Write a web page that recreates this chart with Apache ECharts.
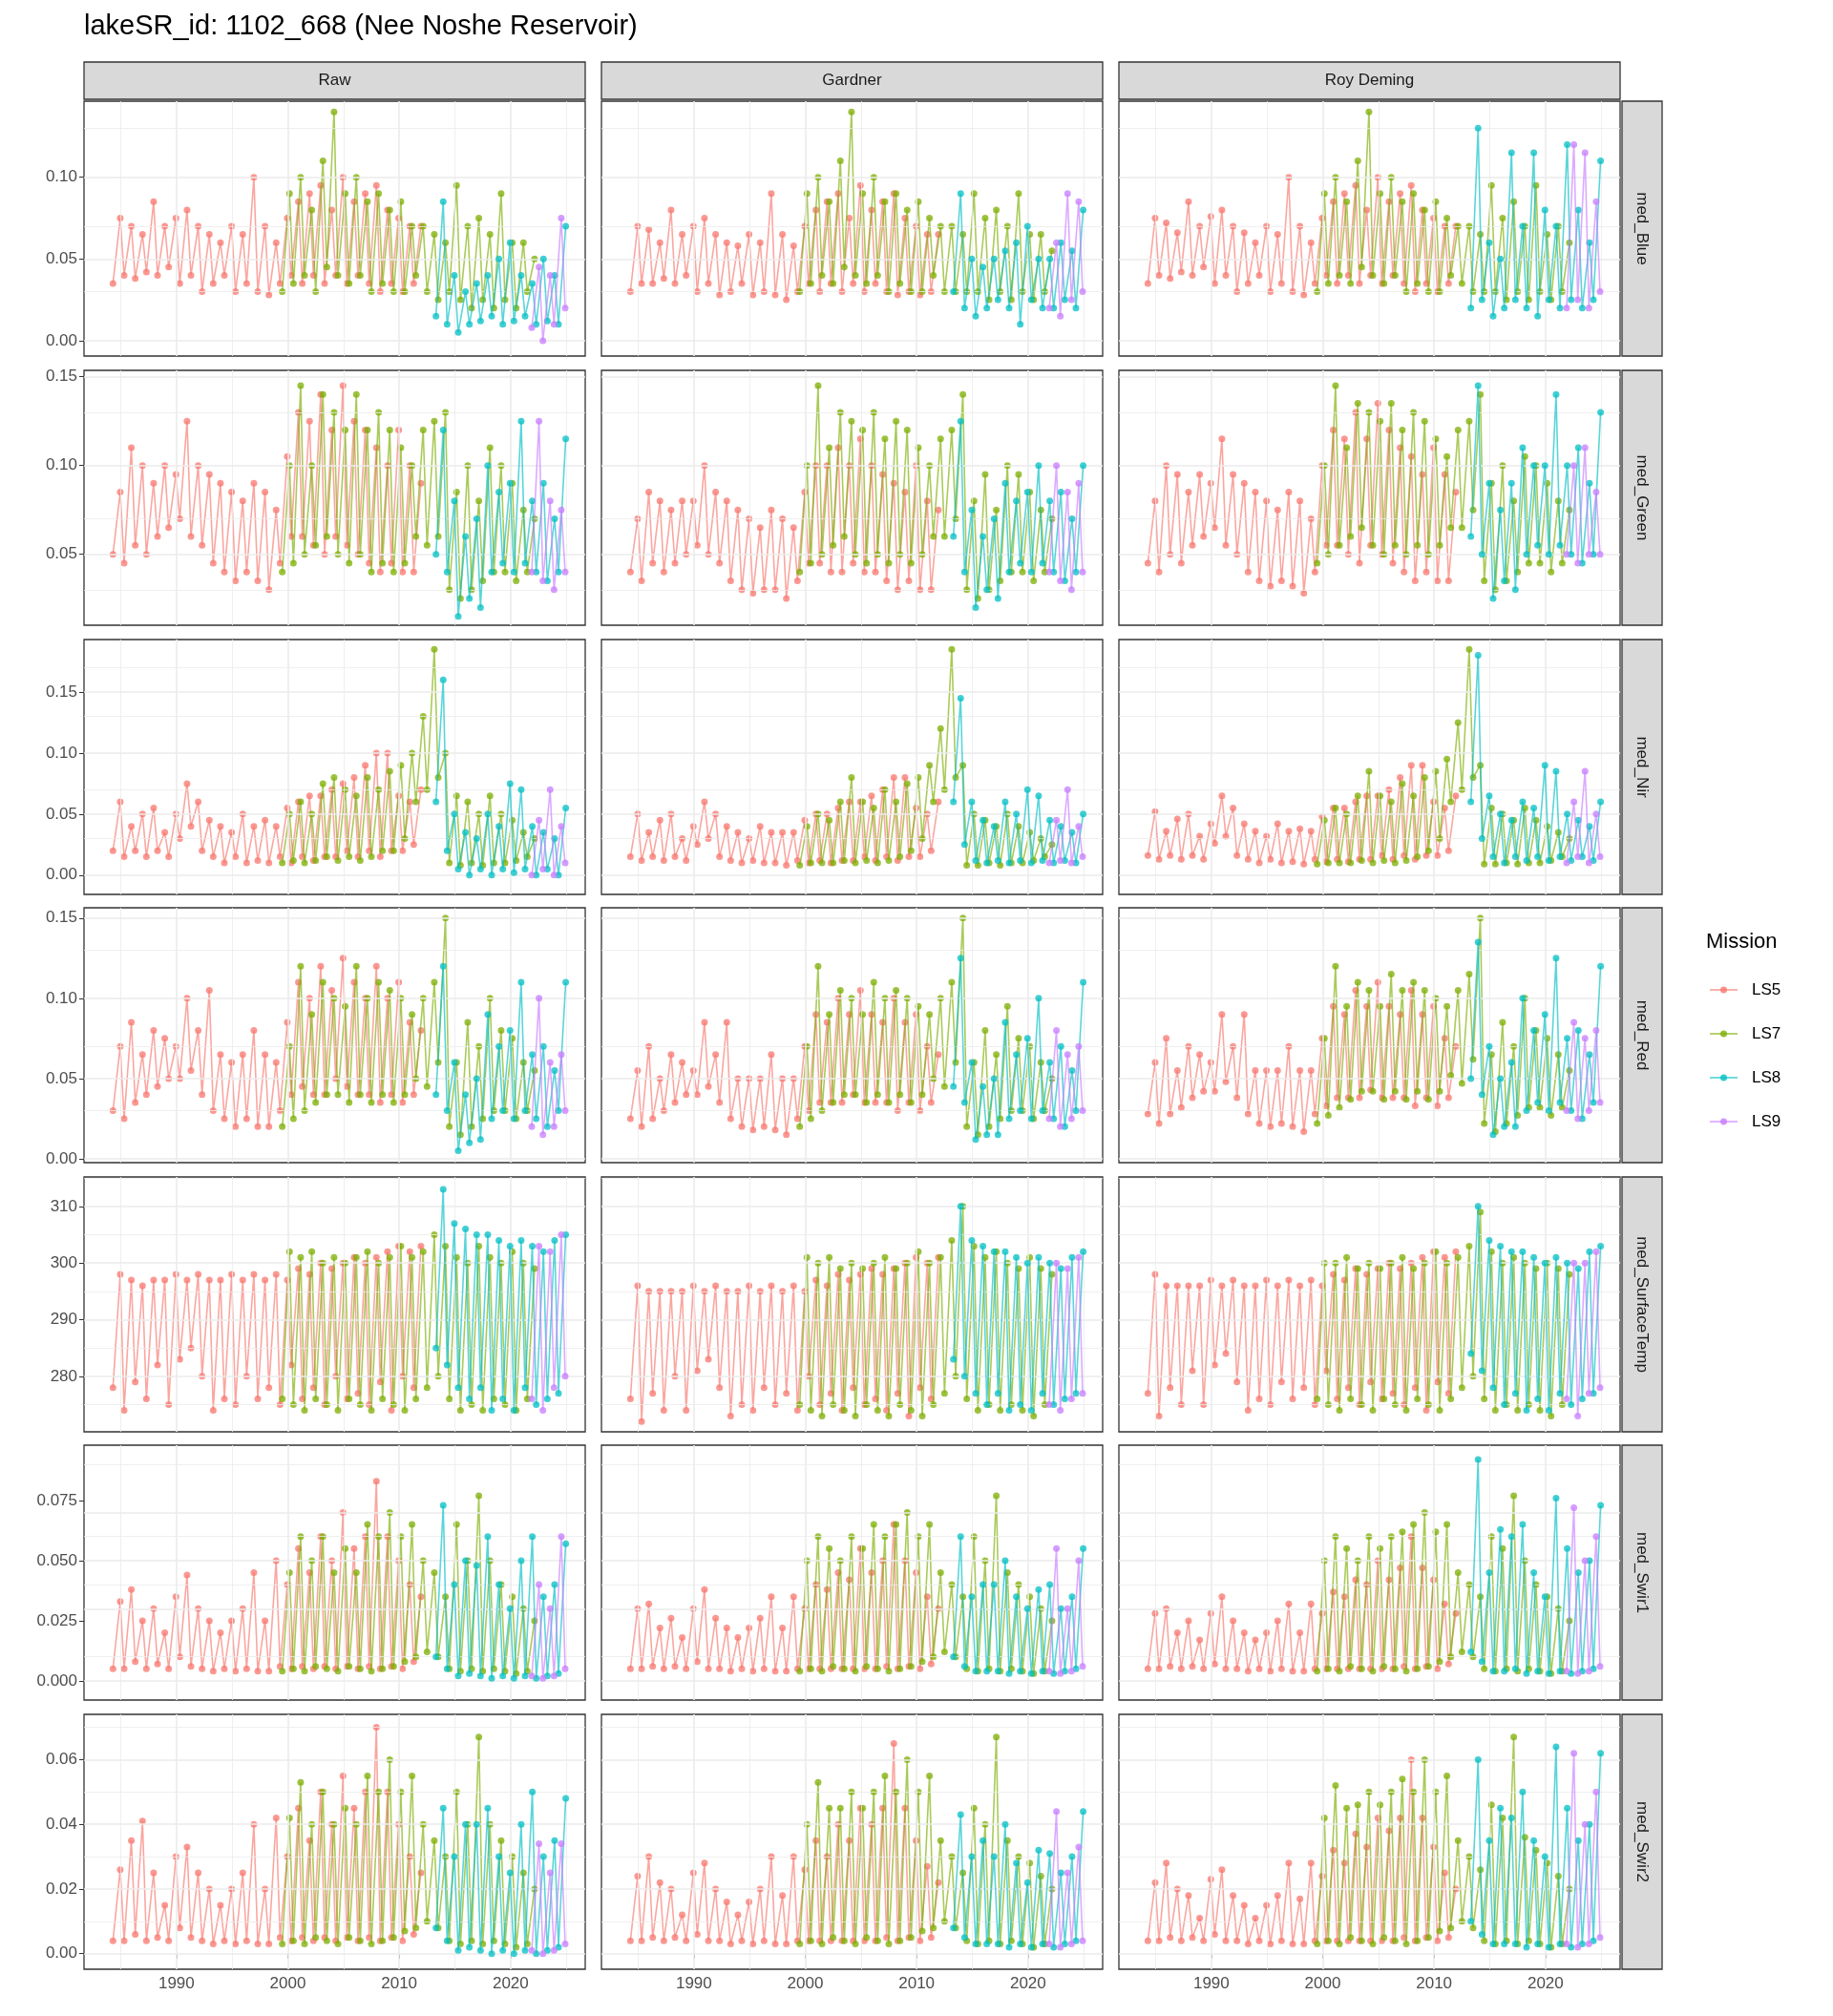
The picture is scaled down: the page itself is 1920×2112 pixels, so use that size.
<!DOCTYPE html>
<html>
<head>
<meta charset="utf-8">
<script src="https://cdn.jsdelivr.net/npm/echarts@6/dist/echarts.min.js"></script>
<style>html,body{margin:0;background:#fff}#main{width:1920px;height:2112px}</style>
</head>
<body>
<div id="main"></div>
<script>
// facets
var variables = ['med_Blue', 'med_Green', 'med_Nir', 'med_Red', 'med_SurfaceTemp', 'med_Swir1', 'med_Swir2'];
var methods = ['Raw', 'Gardner', 'Roy Deming'];
var missions = ['LS5', 'LS7', 'LS8', 'LS9'];
var missionColors = ['#F8766D', '#7CAE00', '#00BFC4', '#C77CFF'];
// first acquisition (decimal year) and spacing of the sampled scenes
var missionStart = [1984.3, 1999.5, 2013.3, 2021.9];
var sampleStep = 0.5;

var xTicks = [1990, 2000, 2010, 2020];
var xMinor = [1985, 1995, 2005, 2015, 2025];
var yTicks = [[0, 0.05, 0.10], [0.05, 0.10, 0.15], [0, 0.05, 0.10, 0.15], [0, 0.05, 0.10, 0.15], [280, 290, 300, 310], [0, 0.025, 0.05, 0.075], [0, 0.02, 0.04, 0.06]];
var yMinor = [[0.025, 0.075, 0.125], [0.025, 0.075, 0.125], [0.025, 0.075, 0.125, 0.175], [0.025, 0.075, 0.125], [275, 285, 295, 305, 315], [0.0125, 0.0375, 0.0625, 0.0875], [0.01, 0.03, 0.05, 0.07]];
var yDecimals = [2, 2, 2, 2, 0, 3, 2];
var yMin = [-0.0094, 0.010, -0.0158, -0.0024, 270.2, -0.008, -0.0048];
var yMax = [0.1465, 0.1536, 0.193, 0.1564, 315.2, 0.098, 0.074];

// ---- med_Blue
var blue_raw_ls5 = [0.035,0.075,0.04,0.07,0.038,0.065,0.042,0.085,0.04,0.07,0.045,0.075,0.035,0.08,0.04,0.07,0.03,0.065,0.035,0.06,0.04,0.07,0.03,0.065,0.035,0.1,0.03,0.07,0.028,0.06,0.035,0.075,0.04,0.085,0.035,0.09,0.04,0.095,0.035,0.08,0.04,0.1,0.035,0.085,0.04,0.09,0.035,0.095,0.03,0.08,0.035,0.075,0.03,0.07,0.035,0.07];
var blue_raw_ls7 = [0.03,0.09,0.035,0.1,0.04,0.08,0.03,0.11,0.045,0.14,0.04,0.09,0.035,0.1,0.04,0.085,0.03,0.09,0.035,0.08,0.03,0.085,0.03,0.07,0.04,0.07,0.03,0.065,0.025,0.06,0.03,0.095,0.025,0.07,0.02,0.075,0.025,0.065,0.02,0.09,0.025,0.06,0.02,0.06,0.03,0.05];
var blue_raw_ls8 = [0.015,0.085,0.01,0.04,0.005,0.03,0.01,0.035,0.012,0.04,0.015,0.05,0.01,0.06,0.012,0.04,0.015,0.035,0.01,0.05,0.012,0.04,0.01,0.07];
var blue_raw_ls9 = [0.008,0.045,0.0,0.04,0.01,0.075,0.02];
var blue_gar_ls5 = [0.03,0.07,0.035,0.068,0.035,0.06,0.038,0.08,0.035,0.065,0.04,0.07,0.03,0.075,0.035,0.065,0.028,0.06,0.03,0.058,0.035,0.065,0.028,0.06,0.03,0.09,0.028,0.065,0.025,0.058,0.03,0.07,0.035,0.08,0.03,0.085,0.035,0.09,0.03,0.075,0.035,0.095,0.03,0.08,0.035,0.085,0.03,0.09,0.028,0.075,0.03,0.07,0.028,0.065,0.03,0.065];
var blue_gar_ls7 = [0.03,0.09,0.035,0.1,0.04,0.085,0.035,0.11,0.045,0.14,0.04,0.09,0.035,0.1,0.04,0.085,0.03,0.09,0.035,0.08,0.03,0.085,0.03,0.075,0.04,0.07,0.03,0.07,0.03,0.065,0.03,0.09,0.03,0.075,0.025,0.08,0.03,0.07,0.025,0.09,0.03,0.065,0.025,0.065,0.03,0.055];
var blue_gar_ls8 = [0.03,0.09,0.02,0.05,0.015,0.045,0.02,0.05,0.025,0.055,0.02,0.06,0.01,0.07,0.025,0.05,0.02,0.05,0.02,0.06,0.025,0.055,0.02,0.08];
var blue_gar_ls9 = [0.02,0.06,0.015,0.09,0.025,0.085,0.03];
var blue_roy_ls5 = [0.035,0.075,0.04,0.072,0.038,0.066,0.042,0.085,0.04,0.07,0.045,0.076,0.035,0.08,0.04,0.07,0.03,0.066,0.035,0.06,0.04,0.07,0.03,0.065,0.035,0.1,0.03,0.07,0.028,0.06,0.035,0.075,0.04,0.085,0.035,0.09,0.04,0.095,0.035,0.08,0.04,0.1,0.035,0.085,0.04,0.09,0.035,0.095,0.03,0.08,0.035,0.075,0.03,0.07,0.035,0.07];
var blue_roy_ls7 = [0.03,0.09,0.035,0.1,0.04,0.085,0.035,0.11,0.045,0.14,0.04,0.09,0.035,0.1,0.04,0.085,0.03,0.09,0.035,0.08,0.03,0.085,0.03,0.075,0.04,0.07,0.035,0.07,0.03,0.065,0.03,0.095,0.03,0.075,0.025,0.085,0.03,0.07,0.025,0.095,0.03,0.065,0.025,0.07,0.03,0.06];
var blue_roy_ls8 = [0.02,0.13,0.025,0.06,0.015,0.05,0.02,0.115,0.025,0.07,0.02,0.115,0.015,0.08,0.025,0.07,0.02,0.12,0.025,0.08,0.02,0.06,0.025,0.11];
var blue_roy_ls9 = [0.02,0.12,0.025,0.115,0.02,0.085,0.03];

// ---- med_Green
var green_raw_ls5 = [0.05,0.085,0.045,0.11,0.055,0.1,0.05,0.09,0.06,0.1,0.065,0.095,0.07,0.125,0.06,0.1,0.055,0.095,0.045,0.09,0.04,0.085,0.035,0.08,0.04,0.09,0.035,0.085,0.03,0.075,0.045,0.105,0.06,0.13,0.06,0.125,0.055,0.14,0.05,0.12,0.06,0.145,0.055,0.125,0.05,0.12,0.045,0.11,0.04,0.1,0.045,0.12,0.04,0.1,0.04,0.09];
var green_raw_ls7 = [0.04,0.1,0.045,0.145,0.05,0.1,0.055,0.14,0.06,0.13,0.05,0.12,0.045,0.14,0.05,0.12,0.04,0.13,0.045,0.12,0.04,0.11,0.045,0.1,0.06,0.12,0.055,0.125,0.06,0.13,0.03,0.085,0.025,0.1,0.03,0.08,0.035,0.11,0.04,0.1,0.04,0.09,0.035,0.075,0.04,0.07];
var green_raw_ls8 = [0.05,0.12,0.04,0.08,0.015,0.06,0.025,0.07,0.02,0.1,0.04,0.085,0.045,0.09,0.04,0.125,0.045,0.08,0.04,0.09,0.035,0.07,0.04,0.115];
var green_raw_ls9 = [0.04,0.125,0.035,0.08,0.03,0.075,0.04];
var green_gar_ls5 = [0.04,0.07,0.035,0.085,0.045,0.08,0.04,0.075,0.045,0.08,0.05,0.08,0.055,0.1,0.05,0.085,0.045,0.08,0.035,0.075,0.03,0.07,0.028,0.065,0.03,0.075,0.03,0.07,0.025,0.065,0.035,0.085,0.045,0.1,0.045,0.1,0.04,0.11,0.04,0.1,0.045,0.115,0.04,0.1,0.04,0.095,0.035,0.09,0.03,0.085,0.035,0.1,0.03,0.08,0.03,0.075];
var green_gar_ls7 = [0.04,0.1,0.045,0.145,0.05,0.11,0.055,0.13,0.06,0.125,0.05,0.12,0.045,0.13,0.05,0.115,0.045,0.125,0.05,0.12,0.045,0.11,0.05,0.1,0.06,0.115,0.06,0.12,0.07,0.14,0.03,0.08,0.025,0.095,0.03,0.075,0.035,0.1,0.04,0.095,0.04,0.085,0.035,0.075,0.04,0.07];
var green_gar_ls8 = [0.06,0.125,0.04,0.075,0.02,0.06,0.03,0.07,0.025,0.09,0.04,0.08,0.045,0.085,0.04,0.1,0.045,0.08,0.04,0.085,0.035,0.07,0.04,0.1];
var green_gar_ls9 = [0.04,0.1,0.035,0.085,0.03,0.09,0.04];
var green_roy_ls5 = [0.045,0.08,0.04,0.1,0.05,0.095,0.045,0.085,0.055,0.095,0.06,0.09,0.065,0.115,0.055,0.095,0.05,0.09,0.04,0.085,0.035,0.08,0.032,0.075,0.035,0.085,0.032,0.08,0.028,0.07,0.04,0.1,0.055,0.12,0.055,0.115,0.05,0.13,0.045,0.115,0.055,0.135,0.05,0.12,0.045,0.11,0.04,0.105,0.035,0.095,0.04,0.11,0.035,0.095,0.035,0.085];
var green_roy_ls7 = [0.045,0.1,0.05,0.145,0.055,0.11,0.06,0.135,0.065,0.13,0.055,0.125,0.05,0.135,0.055,0.12,0.05,0.13,0.055,0.125,0.05,0.115,0.055,0.105,0.065,0.12,0.065,0.125,0.075,0.14,0.035,0.09,0.03,0.1,0.035,0.08,0.04,0.105,0.045,0.1,0.045,0.09,0.04,0.08,0.045,0.075];
var green_roy_ls8 = [0.06,0.145,0.05,0.09,0.025,0.075,0.035,0.09,0.03,0.11,0.05,0.1,0.055,0.1,0.05,0.14,0.055,0.1,0.05,0.11,0.045,0.09,0.05,0.13];
var green_roy_ls9 = [0.05,0.1,0.045,0.11,0.05,0.085,0.05];

// ---- med_Nir
var nir_raw_ls5 = [0.02,0.06,0.015,0.04,0.02,0.05,0.015,0.055,0.02,0.035,0.015,0.05,0.03,0.075,0.04,0.06,0.02,0.045,0.015,0.04,0.01,0.035,0.015,0.05,0.01,0.04,0.012,0.045,0.01,0.04,0.015,0.055,0.01,0.06,0.015,0.065,0.012,0.065,0.015,0.07,0.015,0.075,0.02,0.08,0.015,0.09,0.02,0.1,0.015,0.1,0.02,0.065,0.02,0.06,0.025,0.07];
var nir_raw_ls7 = [0.01,0.05,0.012,0.06,0.01,0.05,0.012,0.075,0.015,0.08,0.012,0.07,0.015,0.065,0.012,0.08,0.015,0.07,0.02,0.085,0.02,0.09,0.03,0.1,0.06,0.13,0.07,0.185,0.08,0.1,0.01,0.065,0.008,0.06,0.01,0.05,0.008,0.065,0.01,0.05,0.01,0.045,0.012,0.035,0.015,0.03];
var nir_raw_ls8 = [0.06,0.16,0.02,0.05,0.005,0.035,0.0,0.03,0.005,0.05,0.0,0.04,0.005,0.075,0.002,0.07,0.005,0.04,0.0,0.035,0.005,0.03,0.0,0.055];
var nir_raw_ls9 = [0.0,0.045,0.005,0.07,0.0,0.04,0.01];
var nir_gar_ls5 = [0.015,0.05,0.012,0.035,0.015,0.045,0.012,0.05,0.015,0.03,0.012,0.04,0.025,0.06,0.03,0.05,0.015,0.04,0.012,0.035,0.01,0.03,0.012,0.04,0.01,0.035,0.01,0.035,0.008,0.035,0.012,0.045,0.01,0.05,0.012,0.05,0.01,0.055,0.012,0.06,0.012,0.06,0.015,0.065,0.012,0.07,0.015,0.08,0.012,0.08,0.015,0.055,0.015,0.05,0.02,0.06];
var nir_gar_ls7 = [0.008,0.04,0.01,0.05,0.01,0.045,0.01,0.06,0.012,0.08,0.01,0.06,0.012,0.055,0.01,0.07,0.012,0.06,0.015,0.075,0.02,0.08,0.03,0.09,0.06,0.12,0.07,0.185,0.08,0.09,0.008,0.05,0.008,0.045,0.01,0.04,0.008,0.05,0.01,0.04,0.01,0.035,0.012,0.03,0.015,0.025];
var nir_gar_ls8 = [0.06,0.145,0.025,0.06,0.012,0.045,0.01,0.04,0.012,0.06,0.01,0.05,0.012,0.07,0.01,0.065,0.012,0.045,0.01,0.04,0.012,0.035,0.01,0.05];
var nir_gar_ls9 = [0.01,0.045,0.012,0.07,0.01,0.04,0.015];
var nir_roy_ls5 = [0.016,0.052,0.013,0.036,0.016,0.046,0.013,0.05,0.016,0.032,0.013,0.042,0.026,0.065,0.032,0.055,0.016,0.042,0.013,0.036,0.01,0.032,0.013,0.042,0.01,0.036,0.011,0.038,0.009,0.036,0.013,0.048,0.011,0.055,0.013,0.055,0.011,0.06,0.013,0.065,0.013,0.065,0.016,0.07,0.013,0.08,0.016,0.09,0.013,0.09,0.016,0.06,0.016,0.055,0.02,0.065];
var nir_roy_ls7 = [0.009,0.045,0.01,0.055,0.01,0.05,0.01,0.065,0.012,0.085,0.01,0.065,0.012,0.06,0.01,0.075,0.012,0.065,0.015,0.08,0.02,0.085,0.03,0.095,0.06,0.125,0.07,0.185,0.08,0.09,0.009,0.055,0.009,0.05,0.01,0.045,0.009,0.055,0.01,0.045,0.01,0.04,0.012,0.035,0.015,0.03];
var nir_roy_ls8 = [0.06,0.18,0.03,0.065,0.015,0.05,0.01,0.045,0.015,0.06,0.012,0.055,0.015,0.09,0.012,0.085,0.015,0.05,0.012,0.045,0.015,0.04,0.012,0.06];
var nir_roy_ls9 = [0.01,0.06,0.015,0.085,0.01,0.05,0.015];

// ---- med_Red
var red_raw_ls5 = [0.03,0.07,0.025,0.085,0.035,0.065,0.04,0.08,0.045,0.075,0.05,0.07,0.05,0.1,0.055,0.08,0.04,0.105,0.03,0.065,0.025,0.06,0.02,0.065,0.025,0.08,0.02,0.065,0.02,0.06,0.03,0.085,0.04,0.11,0.045,0.1,0.04,0.12,0.04,0.105,0.05,0.125,0.045,0.11,0.04,0.1,0.04,0.12,0.035,0.1,0.04,0.11,0.035,0.085,0.04,0.08];
var red_raw_ls7 = [0.02,0.07,0.025,0.12,0.03,0.09,0.035,0.11,0.04,0.1,0.04,0.095,0.035,0.12,0.04,0.1,0.035,0.11,0.04,0.105,0.035,0.1,0.04,0.09,0.05,0.1,0.045,0.11,0.06,0.15,0.02,0.06,0.015,0.085,0.02,0.07,0.025,0.1,0.03,0.08,0.03,0.075,0.025,0.06,0.03,0.055];
var red_raw_ls8 = [0.04,0.12,0.03,0.06,0.005,0.04,0.01,0.05,0.012,0.09,0.025,0.07,0.03,0.08,0.025,0.11,0.03,0.065,0.025,0.07,0.02,0.055,0.03,0.11];
var red_raw_ls9 = [0.02,0.1,0.015,0.06,0.02,0.065,0.03];
var red_gar_ls5 = [0.025,0.055,0.02,0.07,0.025,0.05,0.03,0.065,0.035,0.06,0.04,0.055,0.04,0.085,0.045,0.065,0.035,0.085,0.025,0.05,0.02,0.05,0.018,0.05,0.02,0.065,0.018,0.05,0.015,0.05,0.025,0.07,0.03,0.09,0.035,0.085,0.035,0.1,0.035,0.09,0.04,0.105,0.035,0.09,0.035,0.085,0.035,0.1,0.03,0.085,0.035,0.09,0.03,0.07,0.035,0.065];
var red_gar_ls7 = [0.02,0.07,0.025,0.12,0.03,0.09,0.035,0.105,0.04,0.1,0.04,0.09,0.035,0.11,0.04,0.1,0.035,0.105,0.04,0.1,0.035,0.095,0.04,0.09,0.05,0.1,0.045,0.11,0.06,0.15,0.02,0.06,0.015,0.08,0.02,0.065,0.025,0.095,0.03,0.075,0.03,0.07,0.025,0.06,0.03,0.05];
var red_gar_ls8 = [0.045,0.125,0.035,0.06,0.012,0.045,0.015,0.05,0.015,0.085,0.025,0.065,0.03,0.075,0.025,0.1,0.03,0.06,0.025,0.07,0.02,0.055,0.03,0.11];
var red_gar_ls9 = [0.025,0.08,0.02,0.065,0.025,0.07,0.03];
var red_roy_ls5 = [0.028,0.06,0.022,0.075,0.028,0.055,0.032,0.07,0.038,0.065,0.042,0.06,0.042,0.09,0.048,0.07,0.038,0.09,0.028,0.055,0.022,0.055,0.02,0.055,0.022,0.07,0.02,0.055,0.017,0.055,0.028,0.075,0.033,0.095,0.038,0.09,0.038,0.105,0.038,0.095,0.043,0.11,0.038,0.095,0.038,0.09,0.038,0.105,0.033,0.09,0.038,0.095,0.033,0.075,0.038,0.07];
var red_roy_ls7 = [0.022,0.075,0.027,0.12,0.032,0.095,0.037,0.11,0.042,0.105,0.042,0.095,0.037,0.115,0.042,0.105,0.037,0.11,0.042,0.105,0.037,0.1,0.042,0.095,0.052,0.105,0.047,0.115,0.062,0.15,0.022,0.065,0.017,0.085,0.022,0.07,0.027,0.1,0.032,0.08,0.032,0.075,0.027,0.065,0.032,0.055];
var red_roy_ls8 = [0.05,0.135,0.04,0.07,0.015,0.05,0.02,0.06,0.02,0.1,0.03,0.08,0.035,0.09,0.03,0.125,0.035,0.075,0.03,0.08,0.025,0.065,0.035,0.12];
var red_roy_ls9 = [0.03,0.085,0.025,0.075,0.03,0.08,0.035];

// ---- med_SurfaceTemp
var temp_raw_ls5 = [278,298,274,297,279,296,276,297,282,297,275,298,283,297,285,298,280,297,274,297,276,298,275,297,280,298,276,297,278,298,275,297,282,299,276,298,278,300,275,299,280,300,276,301,277,300,275,301,279,302,274,303,280,302,278,303];
var temp_raw_ls7 = [276,302,275,301,274,302,276,300,275,301,274,300,276,301,275,302,274,300,276,301,275,303,274,301,276,302,278,305,280,303,276,301,274,300,275,303,274,301,276,300,275,302,274,300,276,299];
var temp_raw_ls8 = [285,313,282,307,278,306,276,305,278,305,274,304,276,303,274,304,278,303,275,302,276,304,277,305];
var temp_raw_ls9 = [276,303,274,302,278,305,280];
var temp_gar_ls5 = [276,296,272,295,277,295,274,295,280,295,274,296,281,295,283,296,278,295,273,295,275,296,274,295,278,296,275,295,277,296,274,295,280,297,275,296,277,298,274,297,278,298,275,299,276,298,274,299,277,300,273,301,278,300,276,301];
var temp_gar_ls7 = [275,301,274,300,273,301,275,299,274,300,273,299,275,300,274,301,273,299,275,300,274,302,273,300,275,301,277,304,280,310,276,303,274,301,275,302,274,300,275,299,274,301,273,299,275,298];
var temp_gar_ls8 = [283,310,280,304,277,303,275,302,277,302,274,301,275,300,274,301,277,300,275,299,276,301,277,302];
var temp_gar_ls9 = [275,300,274,299,276,301,277];
var temp_roy_ls5 = [277,298,273,296,278,296,275,296,281,296,275,297,282,296,284,297,279,296,274,296,276,297,275,296,279,297,276,296,278,297,275,296,281,298,276,297,278,299,275,298,279,299,276,300,277,299,275,300,278,301,274,302,279,301,277,302];
var temp_roy_ls7 = [276,300,275,300,274,301,276,299,275,300,274,299,276,300,275,301,274,299,276,300,275,302,274,300,276,301,278,303,280,309,276,302,274,300,275,301,274,300,275,299,274,300,273,299,275,298];
var temp_roy_ls8 = [284,310,281,304,278,303,275,302,277,302,274,301,276,300,274,301,277,300,275,299,276,302,277,303];
var temp_roy_ls9 = [276,300,273,300,277,302,278];

// ---- med_Swir1
var swir1_raw_ls5 = [0.005,0.033,0.005,0.038,0.008,0.025,0.005,0.03,0.007,0.02,0.005,0.035,0.01,0.044,0.006,0.03,0.005,0.025,0.004,0.02,0.005,0.025,0.004,0.03,0.005,0.045,0.004,0.025,0.004,0.05,0.006,0.04,0.005,0.055,0.006,0.045,0.005,0.06,0.006,0.05,0.005,0.07,0.006,0.055,0.005,0.06,0.006,0.083,0.005,0.06,0.006,0.05,0.005,0.04,0.008,0.035];
var swir1_raw_ls7 = [0.004,0.045,0.005,0.06,0.004,0.05,0.006,0.06,0.005,0.045,0.004,0.055,0.006,0.045,0.005,0.065,0.004,0.06,0.005,0.07,0.006,0.06,0.008,0.065,0.01,0.05,0.012,0.045,0.01,0.035,0.005,0.065,0.004,0.05,0.005,0.077,0.004,0.05,0.005,0.04,0.004,0.035,0.003,0.03,0.004,0.025];
var swir1_raw_ls8 = [0.01,0.073,0.005,0.04,0.002,0.05,0.003,0.048,0.002,0.06,0.001,0.04,0.002,0.03,0.001,0.05,0.002,0.06,0.001,0.035,0.002,0.04,0.003,0.057];
var swir1_raw_ls9 = [0.002,0.04,0.001,0.03,0.002,0.06,0.005];
var swir1_gar_ls5 = [0.005,0.03,0.005,0.032,0.006,0.022,0.005,0.026,0.006,0.018,0.005,0.03,0.008,0.038,0.005,0.026,0.005,0.022,0.004,0.018,0.005,0.022,0.004,0.026,0.005,0.035,0.004,0.022,0.004,0.035,0.005,0.03,0.005,0.04,0.005,0.038,0.005,0.045,0.005,0.042,0.005,0.055,0.005,0.045,0.005,0.05,0.006,0.065,0.005,0.05,0.006,0.045,0.005,0.035,0.007,0.03];
var swir1_gar_ls7 = [0.004,0.05,0.005,0.06,0.004,0.055,0.006,0.05,0.005,0.06,0.004,0.055,0.006,0.065,0.005,0.06,0.004,0.065,0.005,0.07,0.006,0.06,0.008,0.065,0.01,0.045,0.012,0.04,0.01,0.035,0.005,0.06,0.004,0.05,0.005,0.077,0.004,0.045,0.005,0.04,0.004,0.035,0.003,0.03,0.004,0.025];
var swir1_gar_ls8 = [0.01,0.06,0.006,0.035,0.004,0.04,0.004,0.04,0.004,0.05,0.003,0.035,0.004,0.03,0.003,0.038,0.004,0.04,0.003,0.03,0.004,0.035,0.005,0.055];
var swir1_gar_ls9 = [0.004,0.055,0.003,0.03,0.004,0.05,0.006];
var swir1_roy_ls5 = [0.005,0.028,0.005,0.03,0.006,0.02,0.005,0.025,0.006,0.017,0.005,0.028,0.007,0.035,0.005,0.025,0.005,0.02,0.004,0.017,0.005,0.02,0.004,0.025,0.005,0.032,0.004,0.02,0.004,0.032,0.005,0.028,0.005,0.037,0.005,0.035,0.005,0.042,0.005,0.04,0.005,0.05,0.005,0.042,0.005,0.047,0.006,0.06,0.005,0.047,0.006,0.042,0.005,0.032,0.007,0.028];
var swir1_roy_ls7 = [0.004,0.05,0.005,0.06,0.004,0.055,0.006,0.05,0.005,0.06,0.004,0.055,0.006,0.06,0.005,0.062,0.004,0.065,0.005,0.07,0.006,0.062,0.008,0.065,0.01,0.045,0.012,0.04,0.01,0.035,0.005,0.06,0.004,0.055,0.005,0.077,0.004,0.05,0.005,0.04,0.004,0.035,0.003,0.03,0.004,0.025];
var swir1_roy_ls8 = [0.012,0.092,0.008,0.045,0.004,0.063,0.004,0.06,0.005,0.065,0.003,0.045,0.004,0.035,0.003,0.076,0.004,0.055,0.003,0.045,0.004,0.05,0.005,0.073];
var swir1_roy_ls9 = [0.004,0.072,0.003,0.05,0.004,0.06,0.006];

// ---- med_Swir2
var swir2_raw_ls5 = [0.004,0.026,0.004,0.035,0.006,0.041,0.004,0.025,0.005,0.015,0.004,0.03,0.008,0.033,0.005,0.025,0.004,0.02,0.003,0.015,0.004,0.02,0.003,0.025,0.004,0.04,0.003,0.02,0.003,0.042,0.005,0.03,0.004,0.045,0.005,0.035,0.004,0.05,0.005,0.04,0.004,0.055,0.005,0.045,0.004,0.05,0.005,0.07,0.004,0.05,0.005,0.04,0.004,0.03,0.006,0.025];
var swir2_raw_ls7 = [0.003,0.042,0.004,0.053,0.003,0.04,0.005,0.05,0.004,0.04,0.003,0.045,0.005,0.04,0.004,0.055,0.003,0.05,0.004,0.06,0.005,0.05,0.007,0.055,0.008,0.04,0.01,0.035,0.008,0.03,0.004,0.05,0.003,0.04,0.004,0.067,0.003,0.04,0.004,0.035,0.003,0.03,0.002,0.025,0.003,0.02];
var swir2_raw_ls8 = [0.008,0.045,0.004,0.03,0.001,0.04,0.002,0.04,0.001,0.045,0.0,0.03,0.001,0.025,0.0,0.04,0.001,0.05,0.0,0.03,0.001,0.035,0.002,0.048];
var swir2_raw_ls9 = [0.001,0.034,0.0,0.025,0.001,0.034,0.003];
var swir2_gar_ls5 = [0.004,0.024,0.004,0.03,0.005,0.022,0.004,0.02,0.005,0.012,0.004,0.025,0.006,0.028,0.004,0.02,0.004,0.016,0.003,0.012,0.004,0.016,0.003,0.02,0.004,0.03,0.003,0.018,0.003,0.03,0.004,0.026,0.004,0.035,0.004,0.03,0.004,0.04,0.004,0.035,0.004,0.045,0.004,0.04,0.004,0.045,0.005,0.065,0.004,0.045,0.005,0.035,0.004,0.027,0.005,0.022];
var swir2_gar_ls7 = [0.003,0.04,0.004,0.053,0.003,0.045,0.005,0.045,0.004,0.05,0.003,0.045,0.005,0.05,0.004,0.055,0.003,0.05,0.004,0.06,0.005,0.05,0.007,0.055,0.008,0.035,0.01,0.03,0.008,0.025,0.004,0.045,0.003,0.04,0.004,0.067,0.003,0.035,0.004,0.03,0.003,0.028,0.002,0.024,0.003,0.02];
var swir2_gar_ls8 = [0.008,0.043,0.005,0.03,0.003,0.035,0.003,0.03,0.003,0.04,0.002,0.028,0.003,0.022,0.002,0.032,0.003,0.031,0.002,0.025,0.003,0.03,0.004,0.044];
var swir2_gar_ls9 = [0.003,0.044,0.002,0.025,0.003,0.033,0.004];
var swir2_roy_ls5 = [0.004,0.022,0.004,0.028,0.005,0.02,0.004,0.018,0.005,0.011,0.004,0.023,0.006,0.026,0.004,0.018,0.004,0.015,0.003,0.011,0.004,0.015,0.003,0.018,0.004,0.028,0.003,0.017,0.003,0.028,0.004,0.024,0.004,0.032,0.004,0.028,0.004,0.037,0.004,0.033,0.004,0.042,0.004,0.038,0.004,0.042,0.005,0.06,0.004,0.042,0.005,0.033,0.004,0.025,0.005,0.02];
var swir2_roy_ls7 = [0.003,0.042,0.004,0.052,0.003,0.045,0.005,0.046,0.004,0.05,0.003,0.046,0.005,0.05,0.004,0.054,0.003,0.05,0.004,0.06,0.005,0.05,0.007,0.055,0.008,0.035,0.01,0.03,0.008,0.026,0.004,0.046,0.003,0.042,0.004,0.067,0.003,0.036,0.004,0.032,0.003,0.028,0.002,0.024,0.003,0.02];
var swir2_roy_ls8 = [0.01,0.06,0.006,0.035,0.003,0.045,0.003,0.042,0.003,0.05,0.002,0.035,0.003,0.03,0.002,0.064,0.003,0.045,0.002,0.035,0.003,0.04,0.004,0.062];
var swir2_roy_ls9 = [0.003,0.062,0.002,0.04,0.003,0.05,0.005];

// table [variable][method][mission]
var table = [
  [[blue_raw_ls5, blue_raw_ls7, blue_raw_ls8, blue_raw_ls9], [blue_gar_ls5, blue_gar_ls7, blue_gar_ls8, blue_gar_ls9], [blue_roy_ls5, blue_roy_ls7, blue_roy_ls8, blue_roy_ls9]],
  [[green_raw_ls5, green_raw_ls7, green_raw_ls8, green_raw_ls9], [green_gar_ls5, green_gar_ls7, green_gar_ls8, green_gar_ls9], [green_roy_ls5, green_roy_ls7, green_roy_ls8, green_roy_ls9]],
  [[nir_raw_ls5, nir_raw_ls7, nir_raw_ls8, nir_raw_ls9], [nir_gar_ls5, nir_gar_ls7, nir_gar_ls8, nir_gar_ls9], [nir_roy_ls5, nir_roy_ls7, nir_roy_ls8, nir_roy_ls9]],
  [[red_raw_ls5, red_raw_ls7, red_raw_ls8, red_raw_ls9], [red_gar_ls5, red_gar_ls7, red_gar_ls8, red_gar_ls9], [red_roy_ls5, red_roy_ls7, red_roy_ls8, red_roy_ls9]],
  [[temp_raw_ls5, temp_raw_ls7, temp_raw_ls8, temp_raw_ls9], [temp_gar_ls5, temp_gar_ls7, temp_gar_ls8, temp_gar_ls9], [temp_roy_ls5, temp_roy_ls7, temp_roy_ls8, temp_roy_ls9]],
  [[swir1_raw_ls5, swir1_raw_ls7, swir1_raw_ls8, swir1_raw_ls9], [swir1_gar_ls5, swir1_gar_ls7, swir1_gar_ls8, swir1_gar_ls9], [swir1_roy_ls5, swir1_roy_ls7, swir1_roy_ls8, swir1_roy_ls9]],
  [[swir2_raw_ls5, swir2_raw_ls7, swir2_raw_ls8, swir2_raw_ls9], [swir2_gar_ls5, swir2_gar_ls7, swir2_gar_ls8, swir2_gar_ls9], [swir2_roy_ls5, swir2_roy_ls7, swir2_roy_ls8, swir2_roy_ls9]]
];

var myChart = echarts.init(document.getElementById('main'));

var colLeft = [88, 630, 1172], panelW = 525;
var rowTop = [106, 388, 670, 951, 1233, 1514, 1796], panelH = 267;
var xMin = 1981.7, xMax = 2026.7;
var FONT = '"Liberation Sans", Arial, sans-serif';

var grids = [], xAxes = [], yAxes = [], series = [], graphics = [];

variables.forEach(function (v, r) {
  methods.forEach(function (m, c) {
    var gi = r * 3 + c;
    var bottom = r === variables.length - 1, left = c === 0;
    grids.push({left: colLeft[c], top: rowTop[r], width: panelW, height: panelH,
      show: true, borderColor: '#333', borderWidth: 1.3, backgroundColor: '#fff'});
    xAxes.push({gridIndex: gi, type: 'value', min: xMin, max: xMax,
      axisLine: {show: false}, splitLine: {show: false},
      axisTick: {show: bottom, customValues: xTicks, length: 5, lineStyle: {color: '#333'}},
      axisLabel: {show: bottom, customValues: xTicks, color: '#4D4D4D', fontSize: 17, margin: 7, fontFamily: FONT,
        formatter: function (val) { return String(Math.round(val)); }}});
    yAxes.push({gridIndex: gi, type: 'value', min: yMin[r], max: yMax[r],
      axisLine: {show: false}, splitLine: {show: false},
      axisTick: {show: left, customValues: yTicks[r], length: 5, lineStyle: {color: '#333'}},
      axisLabel: {show: left, customValues: yTicks[r], color: '#4D4D4D', fontSize: 17, margin: 7, fontFamily: FONT,
        formatter: function (val) { return val.toFixed(yDecimals[r]); }}});

    // grid lines (ggplot theme_bw)
    var lines = [];
    xMinor.forEach(function (x) { lines.push({xAxis: x, lineStyle: {width: 0.8}}); });
    yMinor[r].forEach(function (y) { if (y < yMax[r]) lines.push({yAxis: y, lineStyle: {width: 0.8}}); });
    xTicks.forEach(function (x) { lines.push({xAxis: x, lineStyle: {width: 1.6}}); });
    yTicks[r].forEach(function (y) { lines.push({yAxis: y, lineStyle: {width: 1.6}}); });
    series.push({type: 'line', xAxisIndex: gi, yAxisIndex: gi, data: [], z: 1, silent: true,
      markLine: {silent: true, symbol: 'none', animation: false, label: {show: false},
        lineStyle: {color: '#EBEBEB', type: 'solid'}, data: lines}});

    missions.forEach(function (ms, k) {
      var vals = table[r][c][k];
      var pts = vals.map(function (y, i) { return [missionStart[k] + 0.15 * (i % 2 ? 1 : 0) + i * sampleStep, y]; });
      series.push({name: ms, type: 'line', xAxisIndex: gi, yAxisIndex: gi, data: pts, z: 3 + k,
        symbol: 'circle', symbolSize: 7, showSymbol: true, animation: false,
        lineStyle: {color: missionColors[k], width: 1.6, opacity: 0.65},
        itemStyle: {color: missionColors[k], opacity: 0.75}});
    });
  });
  // right strip
  graphics.push({type: 'rect', shape: {x: 1699, y: rowTop[r], width: 42, height: panelH},
    style: {fill: '#D9D9D9', stroke: '#333', lineWidth: 1.3}});
  graphics.push({type: 'text', x: 1720, y: rowTop[r] + panelH / 2, rotation: -Math.PI / 2,
    style: {text: v, fill: '#1A1A1A', font: '17px ' + FONT, align: 'center', verticalAlign: 'middle'}});
});

methods.forEach(function (m, c) {
  graphics.push({type: 'rect', shape: {x: colLeft[c], y: 65, width: panelW, height: 39},
    style: {fill: '#D9D9D9', stroke: '#333', lineWidth: 1.3}});
  graphics.push({type: 'text', x: colLeft[c] + panelW / 2, y: 84.5,
    style: {text: m, fill: '#1A1A1A', font: '17px ' + FONT, align: 'center', verticalAlign: 'middle'}});
});

graphics.push({type: 'text', x: 88, y: 28,
  style: {text: 'lakeSR_id: 1102_668 (Nee Noshe Reservoir)', fill: '#000', font: '29px ' + FONT, align: 'left', verticalAlign: 'middle'}});

// legend
graphics.push({type: 'text', x: 1787, y: 987,
  style: {text: 'Mission', fill: '#000', font: '22px ' + FONT, align: 'left', verticalAlign: 'middle'}});
missions.forEach(function (ms, k) {
  var y = 1037 + k * 46;
  graphics.push({type: 'line', shape: {x1: 1791, y1: y, x2: 1820, y2: y},
    style: {stroke: missionColors[k], lineWidth: 1.6, opacity: 0.7}});
  graphics.push({type: 'circle', shape: {cx: 1805.5, cy: y, r: 3.5},
    style: {fill: missionColors[k], opacity: 0.8}});
  graphics.push({type: 'text', x: 1835, y: y,
    style: {text: ms, fill: '#000', font: '17px ' + FONT, align: 'left', verticalAlign: 'middle'}});
});

var option = {
  backgroundColor: '#fff',
  animation: false,
  grid: grids,
  xAxis: xAxes,
  yAxis: yAxes,
  series: series,
  graphic: graphics
};
myChart.setOption(option);
</script>
</body>
</html>
